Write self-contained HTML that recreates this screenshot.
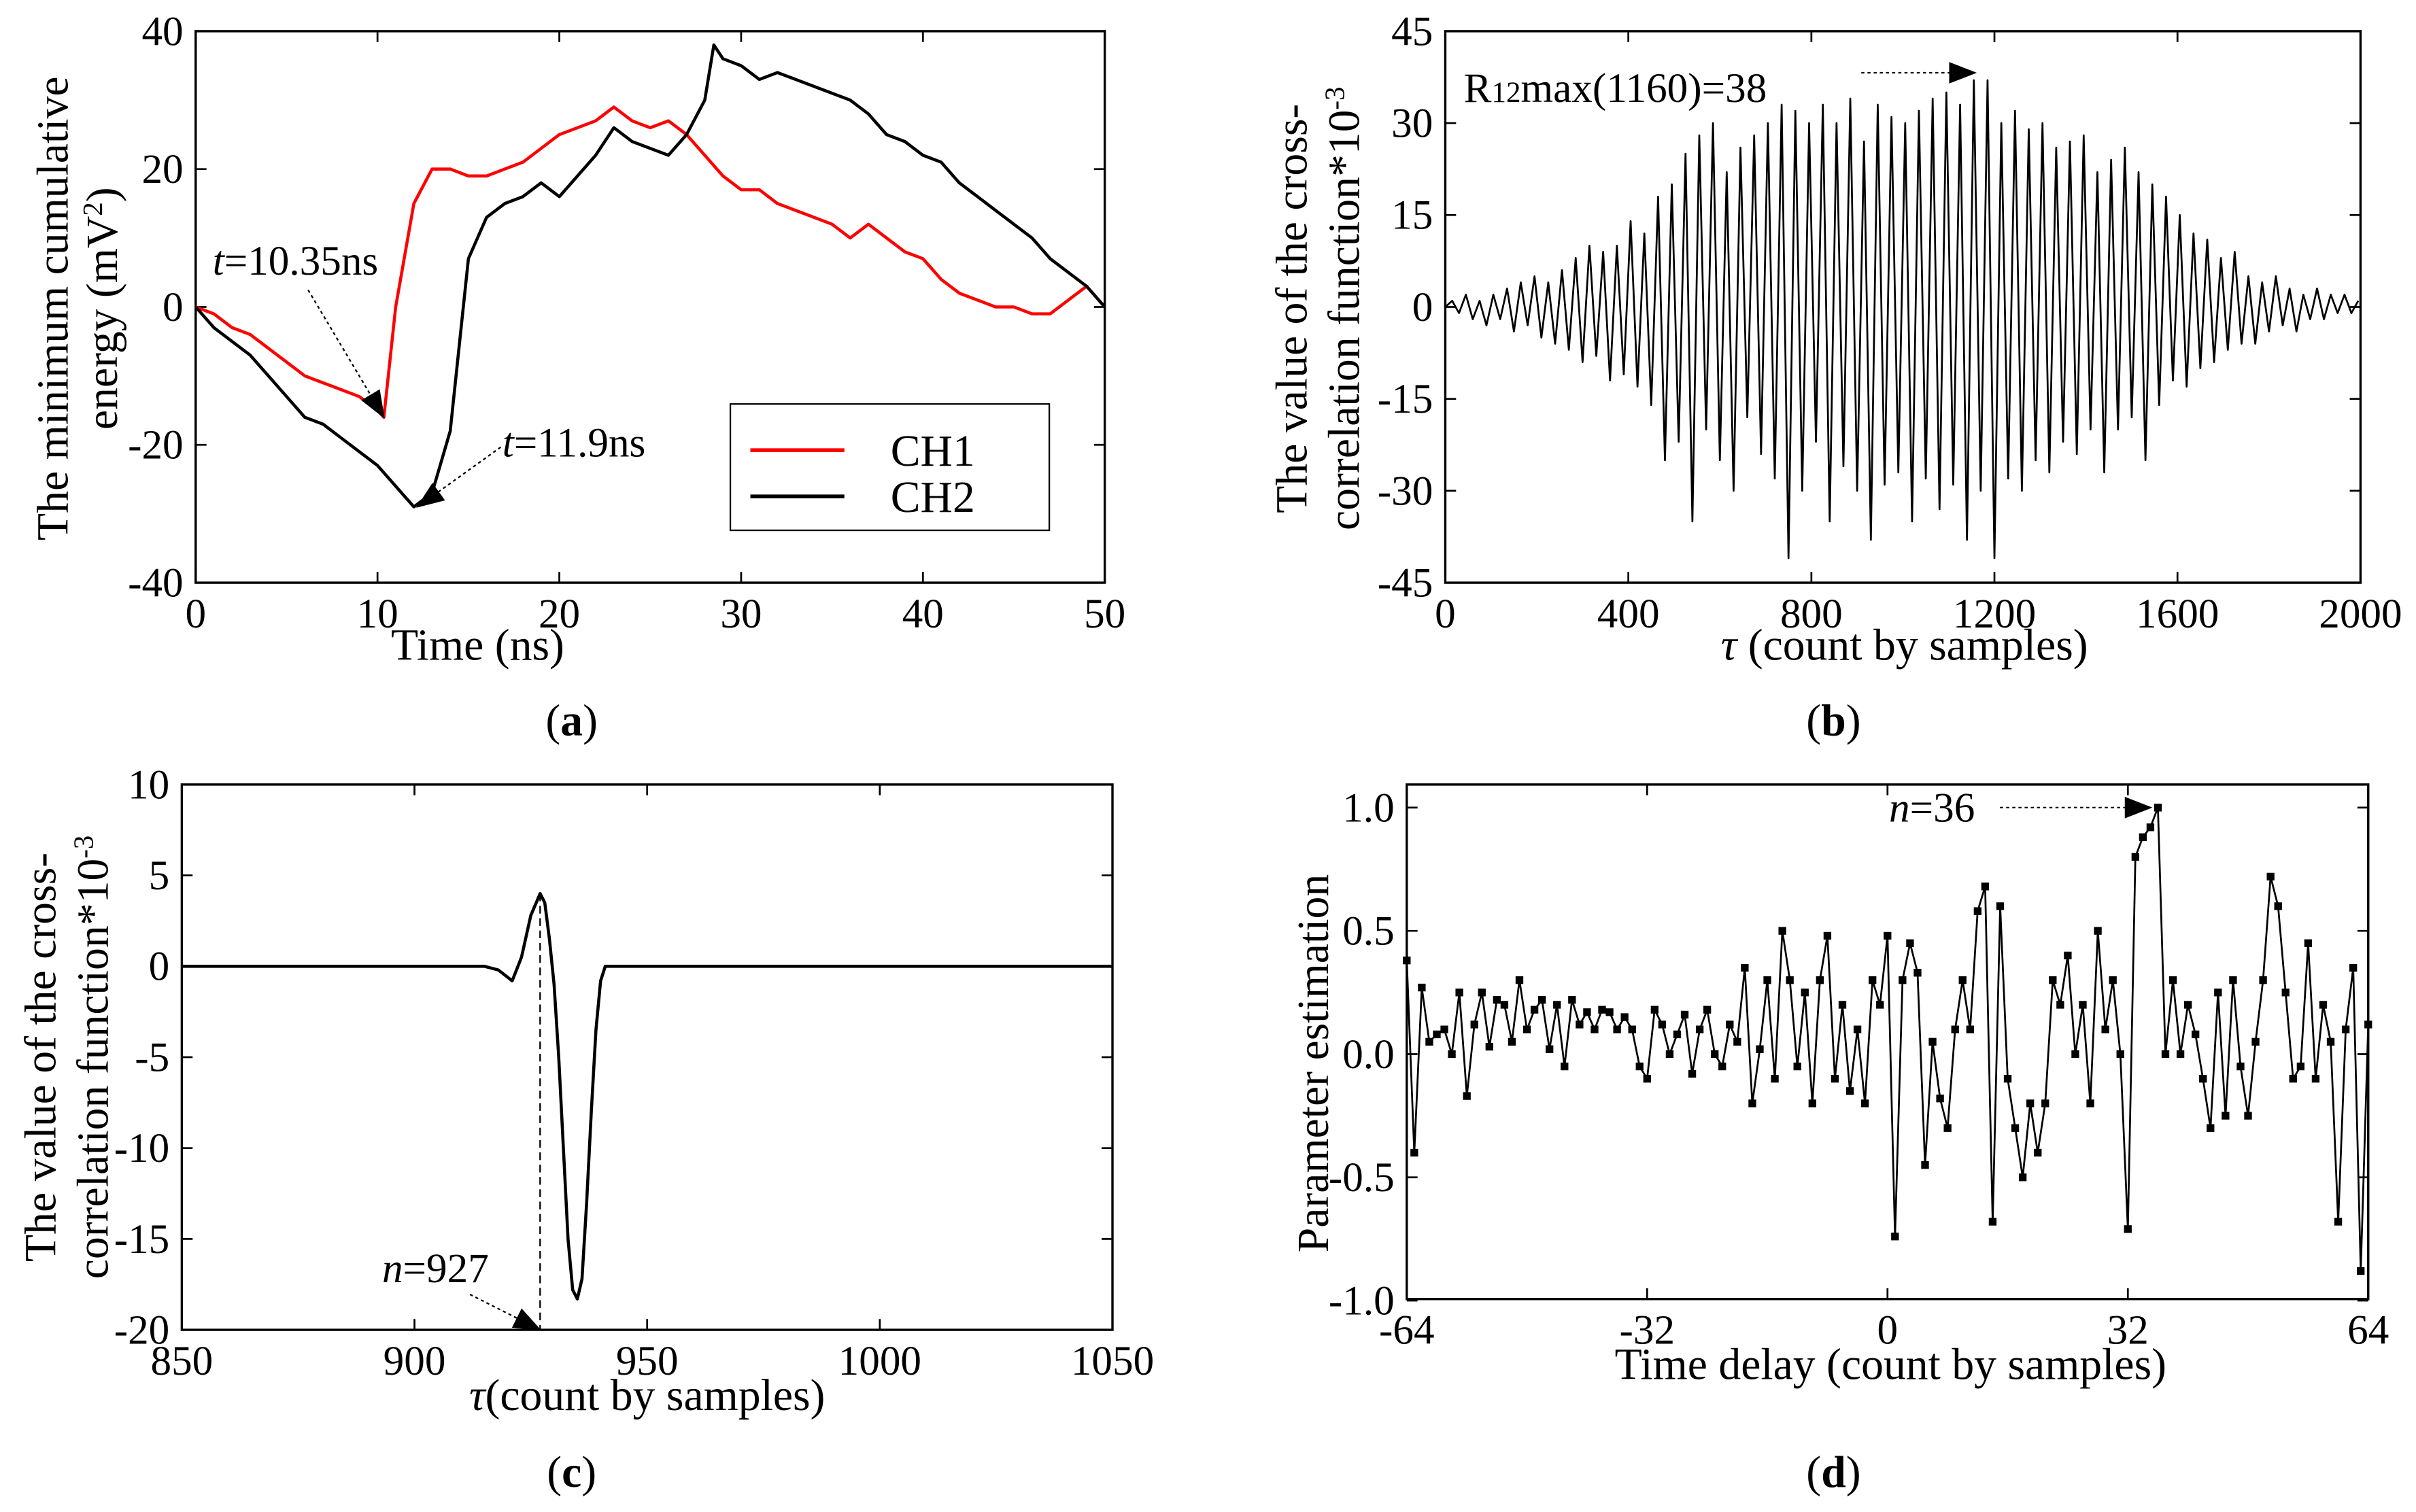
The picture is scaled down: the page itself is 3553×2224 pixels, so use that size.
<!DOCTYPE html>
<html><head><meta charset="utf-8"><style>
html,body{margin:0;padding:0;background:#fff;}
svg{display:block;font-family:"Liberation Serif",serif;}
text{fill:#000;}
</style></head><body>
<svg id="fig" width="3553" height="2224" viewBox="0 0 1568 981" xmlns="http://www.w3.org/2000/svg">
<defs>
<marker id="arrb" markerWidth="18" markerHeight="14" refX="17" refY="7" orient="auto" markerUnits="userSpaceOnUse"><path d="M0,0 L18,7 L0,14 z" fill="#000"/></marker></defs>
<g id="pa"></g>
<g id="pb"></g>
<g id="pc"></g>
<g id="pd"></g>
</svg>
<script>
// Panel a data
const aTime1=[0,1,2,3,4,5,6,7,8,9,10,10.35,11,12,13,14,15,16,17,18,19,20,21,22,23,24,25,26,27,28,29,30,31,32,33,34,35,36,37,38,39,40,41,42,43,44,45,46,47,48,49,50];
const aCH1=[0,-1,-3,-4,-6,-8,-10,-11,-12,-13,-15,-16,0,15,20,20,19,19,20,21,23,25,26,27,29,27,26,27,25,22,19,17,17,15,14,13,12,10,12,10,8,7,4,2,1,0,0,-1,-1,1,3,0];
const aTime2=[0,1,2,3,4,5,6,7,8,9,10,11,12,13,14,15,16,17,18,19,20,21,22,23,24,25,26,27,28,28.5,29,30,31,32,33,34,35,36,37,38,39,40,41,42,43,44,45,46,47,48,49,50];
const aCH2=[0,-3,-5,-7,-10,-13,-16,-17,-19,-21,-23,-26,-29,-27,-18,7,13,15,16,18,16,19,22,26,24,23,22,25,30,38,36,35,33,34,33,32,31,30,28,25,24,22,21,18,16,14,12,10,7,5,3,0];
const aXTicks=[0,10,20,30,40,50];
const aYTicks=[-40,-20,0,20,40];
// Panel b data (tau step 15)
const bTau=[0,15,30,45,60,75,90,105,120,135,150,165,180,195,210,225,240,255,270,285,300,315,330,345,360,375,390,405,420,435,450,465,480,495,510,525,540,555,570,585,600,615,630,645,660,675,690,705,720,735,750,765,780,795,810,825,840,855,870,885,900,915,930,945,960,975,990,1005,1020,1035,1050,1065,1080,1095,1110,1125,1140,1155,1170,1185,1200,1215,1230,1245,1260,1275,1290,1305,1320,1335,1350,1365,1380,1395,1410,1425,1440,1455,1470,1485,1500,1515,1530,1545,1560,1575,1590,1605,1620,1635,1650,1665,1680,1695,1710,1725,1740,1755,1770,1785,1800,1815,1830,1845,1860,1875,1890,1905,1920,1935,1950,1965,1980,1995];
const bVal=[0,1,-1,2,-2,1,-3,2,-2,3,-4,4,-3,5,-5,4,-6,6,-7,8,-9,10,-8,9,-12,10,-11,14,-13,12,-16,18,-25,20,-22,25,-35,28,-20,30,-25,22,-30,26,-18,28,-24,30,-28,33,-41,32,-30,30,-22,33,-35,30,-26,34,-30,27,-38,33,-29,31,-27,30,-35,32,-28,34,-33,35,-29,33,-38,37,-30,37,-41,30,-28,32,-30,29,-25,30,-27,26,-22,27,-24,28,-20,22,-27,24,-20,26,-18,22,-25,20,-16,18,-12,15,-13,12,-10,11,-9,8,-7,9,-6,5,-6,4,-4,5,-3,3,-4,2,-2,3,-2,2,-1,2,-1,1,0,1];
const bXTicks=[0,400,800,1200,1600,2000];
const bYTicks=[-45,-30,-15,0,15,30,45];
// Panel c data
const cTau=[850,915,918,921,923,925,927,928,929,930,931,932,933,934,935,936,937,938,939,940,941,1050];
const cVal=[0,0,-0.2,-0.8,0.5,2.8,4,3.5,1.5,-1,-5,-10,-15,-17.8,-18.3,-17.2,-13,-8,-3.5,-0.8,0,0];
const cXTicks=[850,900,950,1000,1050];
const cYTicks=[-20,-15,-10,-5,0,5,10];
// Panel d data (delay -64..64, 129 values)
const dVal=[
0.38,-0.4,0.27,0.05,0.08,0.1,0.0,0.25,-0.17,0.12,
0.25,0.03,0.22,0.2,0.05,0.3,0.1,0.18,0.22,0.02,
0.2,-0.05,0.22,0.12,0.17,0.1,0.18,0.17,0.1,0.15,
0.1,-0.05,-0.1,0.18,0.12,0.0,0.08,0.16,-0.08,0.1,
0.18,0.0,-0.05,0.12,0.05,0.35,-0.2,0.02,0.3,-0.1,
0.5,0.3,-0.05,0.25,-0.2,0.3,0.48,-0.1,0.2,-0.15,
0.1,-0.2,0.3,0.2,0.48,-0.74,0.3,0.45,0.33,-0.45,
0.05,-0.18,-0.3,0.1,0.3,0.1,0.58,0.68,-0.68,0.6,
-0.1,-0.3,-0.5,-0.2,-0.4,-0.2,0.3,0.2,0.4,0.0,
0.2,-0.2,0.5,0.1,0.3,0.0,-0.71,0.8,0.88,0.92,
1.0,0.0,0.3,0.0,0.2,0.08,-0.1,-0.3,0.25,-0.25,0.3,
-0.05,-0.25,0.05,0.3,0.72,0.6,0.25,-0.1,-0.05,0.45,
-0.1,0.2,0.05,-0.68,0.1,0.35,-0.88,0.12];
const dXTicks=[-64,-32,0,32,64];
const dYTicks=[-1.0,-0.5,0.0,0.5,1.0];

const NS='http://www.w3.org/2000/svg';
function mk(parent,tag,attrs,txt){const e=document.createElementNS(NS,tag);for(const k in attrs)e.setAttribute(k,attrs[k]);if(txt!==undefined)e.textContent=txt;parent.appendChild(e);return e;}
function lin(d0,d1,r0,r1){return v=>r0+(v-d0)*(r1-r0)/(d1-d0);}

function axes(g,box,xs,ys,xT,yT,xFmt,yFmt){
  const f=mk(g,'rect',{x:box.x0,y:box.y0,width:box.x1-box.x0,height:box.y1-box.y0,fill:'none',stroke:'#000','stroke-width':1.5});
  
  
  xT.forEach(v=>{const x=xs(v);
    mk(g,'line',{x1:x,x2:x,y1:box.y1,y2:box.y1-7,stroke:'#000','stroke-width':1.2});
    mk(g,'line',{x1:x,x2:x,y1:box.y0,y2:box.y0+7,stroke:'#000','stroke-width':1.2});
    const t=mk(g,'text',{x:x,y:box.y1+29,'text-anchor':'middle','font-size':27},xFmt(v));
    
    });
  yT.forEach(v=>{const y=ys(v);
    mk(g,'line',{x1:box.x0,x2:box.x0+7,y1:y,y2:y,stroke:'#000','stroke-width':1.2});
    mk(g,'line',{x1:box.x1,x2:box.x1-7,y1:y,y2:y,stroke:'#000','stroke-width':1.2});
    const t=mk(g,'text',{x:box.x0-8,y:y+9,'text-anchor':'end','font-size':27},yFmt(v));
    
    });
}
function poly(g,xsArr,ysArr,xs,ys,color,w,name){
  const pts=xsArr.map((x,i)=>xs(x).toFixed(2)+','+ys(ysArr[i]).toFixed(2)).join(' ');
  const p=mk(g,'polyline',{points:pts,fill:'none',stroke:color,'stroke-width':w,'stroke-linejoin':'round'});
  
  
  return p;
}
function label(g,x,y,txt,size,name,extra){const t=mk(g,'text',Object.assign({x:x,y:y,'font-size':size},extra||{}));t.innerHTML=txt;return t;}

// Panel a
(function(){const g=document.getElementById('pa');
 const box={x0:127,x1:717,y0:20,y1:378};
 const xs=lin(0,50,box.x0,box.x1),ys=lin(-40,40,box.y1,box.y0);
 axes(g,box,xs,ys,aXTicks,aYTicks,v=>v,v=>v);
 poly(g,aTime1,aCH1,xs,ys,'#ff0000',2,'ch1-line');
 poly(g,aTime2,aCH2,xs,ys,'#000',2,'ch2-line');
 label(g,310,428,'Time (ns)',29,'x-axis-title',{'text-anchor':'middle'});
 label(g,0,0,'The minimum cumulative',29,'y-axis-title',{'text-anchor':'middle',transform:'translate(44,200) rotate(-90)'});
 label(g,0,0,'energy (mV<tspan baseline-shift="super" font-size="18">2</tspan>)',29,'y-axis-title-line2',{'text-anchor':'middle',transform:'translate(76,200) rotate(-90)'});
 label(g,138,178,'<tspan font-style="italic">t</tspan>=10.35ns',27,'annotation-ch1');
 mk(g,'line',{x1:200,y1:188,x2:xs(10.35),y2:ys(-16),stroke:'#000','stroke-dasharray':'2,2','marker-end':'url(#arrb)'});
 label(g,326,296,'<tspan font-style="italic">t</tspan>=11.9ns',27,'annotation-ch2');
 mk(g,'line',{x1:325,y1:290,x2:xs(12.2),y2:ys(-29),stroke:'#000','stroke-dasharray':'2,2','marker-end':'url(#arrb)'});
 const lg=mk(g,'g',{});
 mk(lg,'rect',{x:474,y:262,width:207,height:82,fill:'#fff',stroke:'#000','stroke-width':1});
 mk(lg,'line',{x1:487,x2:548,y1:292,y2:292,stroke:'#ff0000','stroke-width':2.5});
 mk(lg,'line',{x1:487,x2:548,y1:322,y2:322,stroke:'#000','stroke-width':2.5});
 label(lg,578,302,'CH1',29,'legend-entry-ch1');
 label(lg,578,332,'CH2',29,'legend-entry-ch2');
 label(g,371,477,'(<tspan font-weight="bold">a</tspan>)',29,'panel-label-a',{'text-anchor':'middle'});
})();
// Panel b
(function(){const g=document.getElementById('pb');
 const box={x0:938,x1:1532,y0:20,y1:378};
 const xs=lin(0,2000,box.x0,box.x1),ys=lin(-45,45,box.y1,box.y0);
 axes(g,box,xs,ys,bXTicks,bYTicks,v=>v,v=>v);
 poly(g,bTau,bVal,xs,ys,'#000',1.2,'cross-correlation-line');
 label(g,1236,428,'<tspan font-style="italic">τ</tspan> (count by samples)',29,'x-axis-title',{'text-anchor':'middle'});
 label(g,0,0,'The value of the cross-',29,'y-axis-title',{'text-anchor':'middle',transform:'translate(848,200) rotate(-90)'});
 label(g,0,0,'correlation function*10<tspan baseline-shift="super" font-size="18">-3</tspan>',29,'y-axis-title-line2',{'text-anchor':'middle',transform:'translate(882,200) rotate(-90)'});
 label(g,950,66,'R<tspan font-size="19">12</tspan>max(1160)=38',27,'peak-annotation');
 mk(g,'line',{x1:1208,y1:47,x2:1282,y2:47,stroke:'#000','stroke-dasharray':'2,2','marker-end':'url(#arrb)'});
 label(g,1190,477,'(<tspan font-weight="bold">b</tspan>)',29,'panel-label-b',{'text-anchor':'middle'});
})();
// Panel c
(function(){const g=document.getElementById('pc');
 const box={x0:118,x1:722,y0:509,y1:863};
 const xs=lin(850,1050,box.x0,box.x1),ys=lin(-20,10,box.y1,box.y0);
 axes(g,box,xs,ys,cXTicks,cYTicks,v=>v,v=>v);
 poly(g,cTau,cVal,xs,ys,'#000',2,'cross-correlation-line');
 mk(g,'line',{x1:xs(927),x2:xs(927),y1:ys(4),y2:box.y1,stroke:'#000','stroke-dasharray':'5,3'});
 label(g,248,832,'<tspan font-style="italic">n</tspan>=927',27,'annotation-n927');
 mk(g,'line',{x1:305,y1:840,x2:xs(927),y2:box.y1,stroke:'#000','stroke-dasharray':'2,2','marker-end':'url(#arrb)'});
 label(g,420,915,'<tspan font-style="italic">τ</tspan>(count by samples)',29,'x-axis-title',{'text-anchor':'middle'});
 label(g,0,0,'The value of the cross-',29,'y-axis-title',{'text-anchor':'middle',transform:'translate(36,686) rotate(-90)'});
 label(g,0,0,'correlation function*10<tspan baseline-shift="super" font-size="18">-3</tspan>',29,'y-axis-title-line2',{'text-anchor':'middle',transform:'translate(70,686) rotate(-90)'});
 label(g,371,965,'(<tspan font-weight="bold">c</tspan>)',29,'panel-label-c',{'text-anchor':'middle'});
})();
// Panel d
(function(){const g=document.getElementById('pd');
 const box={x0:913,x1:1537,y0:509,y1:843};
 const xs=lin(-64,64,box.x0,box.x1),ys=lin(-1,1,844,524);
 axes(g,box,xs,ys,dXTicks,dYTicks,v=>v,v=>v.toFixed(1));
 const dX=dVal.map((v,i)=>i-64);
 poly(g,dX,dVal,xs,ys,'#000',1.2,'estimation-line');
 dVal.forEach((v,i)=>{const r=mk(g,'rect',{x:xs(i-64)-2.5,y:ys(v)-2.5,width:5,height:5,fill:'#000'});
   
   });
 label(g,1226,533,'<tspan font-style="italic">n</tspan>=36',27,'peak-annotation');
 mk(g,'line',{x1:1298,y1:524,x2:1396,y2:524,stroke:'#000','stroke-dasharray':'2,2','marker-end':'url(#arrb)'});
 label(g,1227,895,'Time delay (count by samples)',29,'x-axis-title',{'text-anchor':'middle'});
 label(g,0,0,'Parameter estimation',29,'y-axis-title',{'text-anchor':'middle',transform:'translate(862,690) rotate(-90)'});
 label(g,1190,965,'(<tspan font-weight="bold">d</tspan>)',29,'panel-label-d',{'text-anchor':'middle'});
})();
</script>
</body></html>
